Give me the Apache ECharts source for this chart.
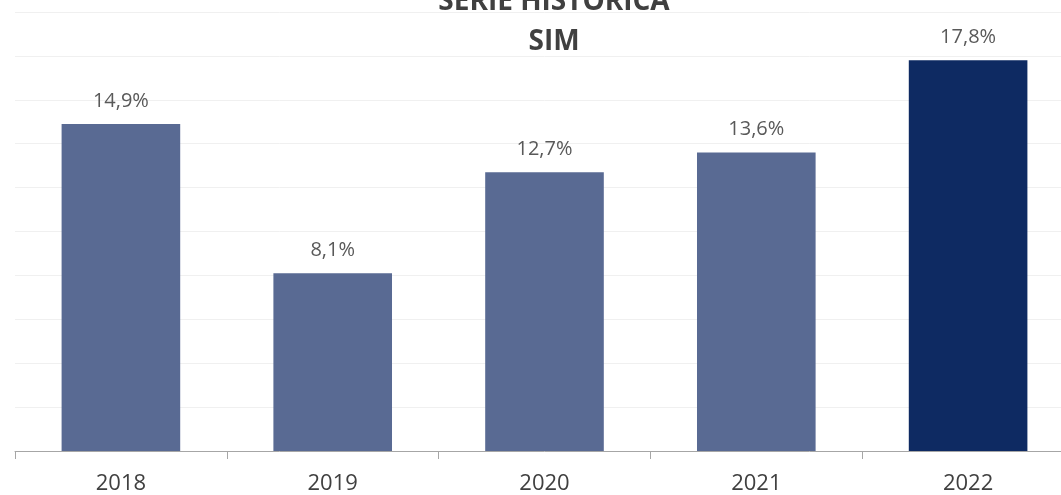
<!DOCTYPE html>
<html>
<head>
<meta charset="utf-8">
<script src="https://cdn.jsdelivr.net/npm/echarts@6/dist/echarts.min.js"></script>
<style>
  html, body { margin: 0; padding: 0; background: #fff; overflow: hidden; }
  /* a área do gráfico passa um pouco da borda direita, como no original */
  #chart { width: 1074px; height: 495px; }
</style>
</head>
<body>
<div id="chart"></div>
<script>
// dados da série histórica
var anos = ['2018', '2019', '2020', '2021', '2022'];
var valores = [14.9, 8.1, 12.7, 13.6, 17.8];
var cores = ['#596A93', '#596A93', '#596A93', '#596A93', '#0E2A62'];

var chart = echarts.init(document.getElementById('chart'));

var option = {
    backgroundColor: '#fff',
    animation: false,
    title: {
        text: 'SÉRIE HISTÓRICA\nSIM',
        left: 549,
        textAlign: 'center',
        top: -23,
        textStyle: {
            fontFamily: 'Open Sans',
            fontSize: 28,
            fontWeight: 'bold',
            color: '#404040',
            lineHeight: 40
        }
    },
    grid: {
        left: 15,
        top: 12,
        right: 0,
        bottom: 43,
        containLabel: false
    },
    xAxis: {
        type: 'category',
        data: anos,
        axisLine: { lineStyle: { color: '#A6A6A6', width: 1 } },
        axisTick: { show: true, length: 8, lineStyle: { color: '#A6A6A6' } },
        axisLabel: {
            margin: 22,
            fontFamily: 'Open Sans',
            fontSize: 22,
            color: '#404040'
        }
    },
    yAxis: {
        type: 'value',
        min: 0,
        max: 20,
        interval: 2,
        axisLabel: { show: false },
        axisLine: { show: false },
        axisTick: { show: false },
        splitLine: { lineStyle: { color: '#F0F0F0', width: 1 } }
    },
    series: [{
        type: 'bar',
        barWidth: '56%',
        data: valores.map(function (v, i) {
            return { value: v, itemStyle: { color: cores[i] } };
        }),
        label: {
            show: true,
            position: 'top',
            distance: 13,
            fontFamily: 'Open Sans',
            fontSize: 20,
            color: '#595959',
            formatter: function (p) {
                return p.value.toFixed(1).replace('.', ',') + '%';
            }
        }
    }]
};

chart.setOption(option);
</script>
</body>
</html>
